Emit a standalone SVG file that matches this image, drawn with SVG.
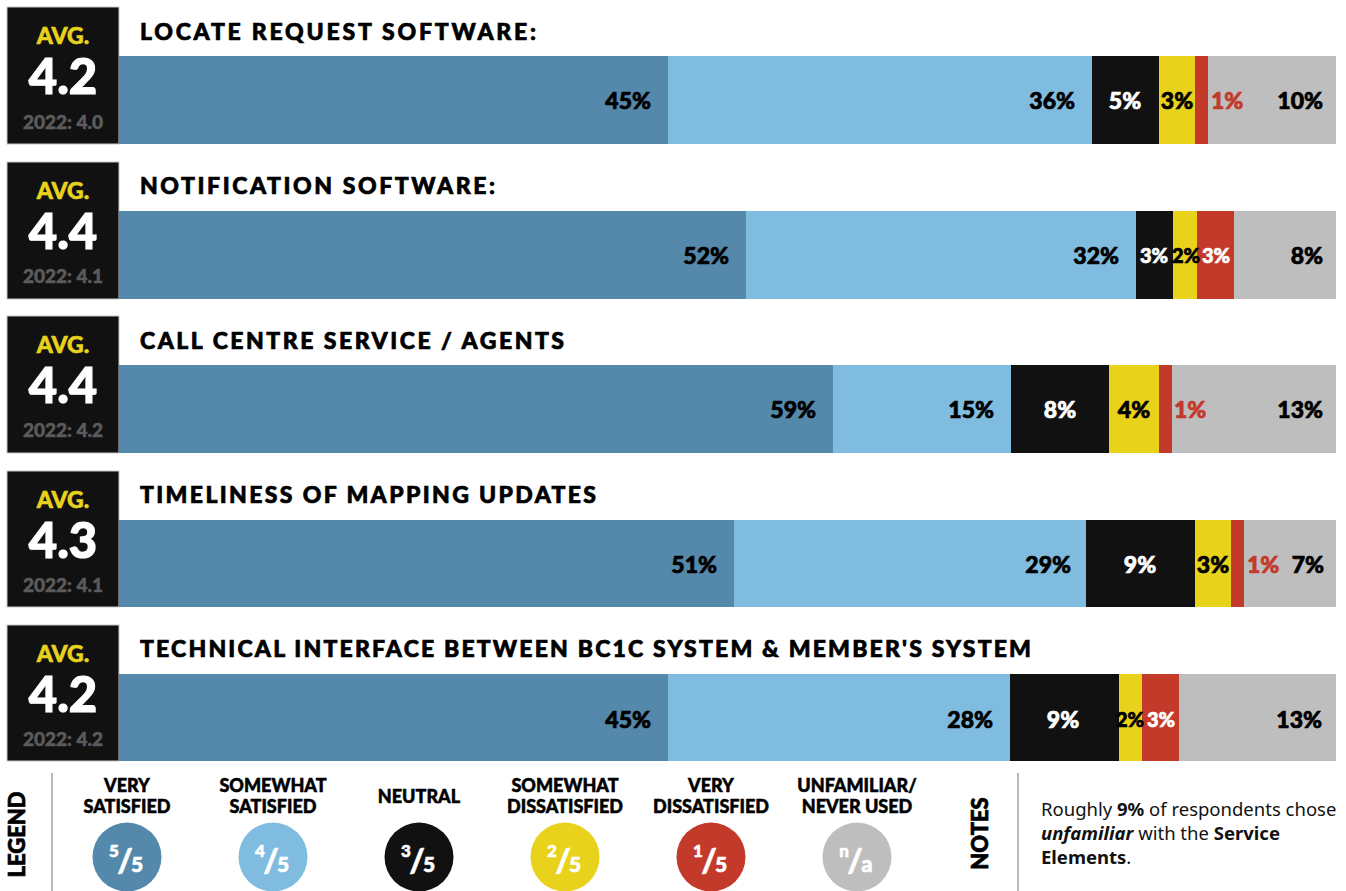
<svg xmlns="http://www.w3.org/2000/svg" width="1346" height="891" viewBox="0 0 1346 891">
<style>
.h{font-family:Lato,"DejaVu Sans",sans-serif;font-weight:900}
.box{fill:#111;stroke:#c8c8c8;stroke-width:1}
.avg{fill:#e8d21e;stroke:#e8d21e;stroke-width:0.6;font-size:23px;text-anchor:middle}
.num{fill:#fff;stroke:#fff;stroke-width:1.2;font-size:49px;text-anchor:middle}
.prev{fill:#5b5b5b;stroke:#5b5b5b;stroke-width:0.5;font-size:19px;text-anchor:middle}
.title{fill:#000;stroke:#000;stroke-width:0.7;font-size:23px}
.pct{font-size:23px;stroke-width:0.7}
.sm{font-size:20px}
.e{text-anchor:end}
.m{text-anchor:middle}
.k{fill:#000;stroke:#000}.w{fill:#fff;stroke:#fff}.r{fill:#c3392a;stroke:#c3392a}
.c1{fill:#5489ab}.c2{fill:#7fbcdf}.c3{fill:#111}.c4{fill:#e9d21c}.c5{fill:#c3392a}.c6{fill:#bebebe}
.lg{font-size:18px;fill:#000;stroke:#000;stroke-width:0.5;text-anchor:middle}
.side{font-size:22px;fill:#000;stroke:#000;stroke-width:0.7;text-anchor:middle}
.fn{fill:#fff;stroke:#fff;stroke-width:0.6;text-anchor:middle}
.rule{stroke:#bbb;stroke-width:2}
.note{font-family:"Noto Sans","Open Sans",sans-serif;font-size:18.5px;fill:#111}
</style>
<rect width="1346" height="891" fill="#fff"/>

<g id="row1" class="h">
<rect class="box" x="7" y="7" width="112" height="137"/>
<text class="avg" x="63" y="44">AVG.</text>
<text class="num" x="63" y="94">4.2</text>
<text class="prev" x="63" y="129">2022: 4.0</text>
<text class="title" x="140" y="40" textLength="396" lengthAdjust="spacing">LOCATE REQUEST SOFTWARE:</text>
<rect class="c1" x="119" y="56" width="549" height="88"/>
<rect class="c2" x="668" y="56" width="424" height="88"/>
<rect class="c3" x="1092" y="56" width="67" height="88"/>
<rect class="c4" x="1159" y="56" width="36" height="88"/>
<rect class="c5" x="1195" y="56" width="13" height="88"/>
<rect class="c6" x="1208" y="56" width="128" height="88"/>
<text class="pct k e" x="651" y="109">45%</text>
<text class="pct k e" x="1075" y="109">36%</text>
<text class="pct w m" x="1125" y="109">5%</text>
<text class="pct k m" x="1177" y="109">3%</text>
<text class="pct r" x="1211" y="109">1%</text>
<text class="pct k e" x="1323" y="109">10%</text>
</g>

<g id="row2" class="h">
<rect class="box" x="7" y="162" width="112" height="137"/>
<text class="avg" x="63" y="199">AVG.</text>
<text class="num" x="63" y="249">4.4</text>
<text class="prev" x="63" y="283">2022: 4.1</text>
<text class="title" x="140" y="194" textLength="355" lengthAdjust="spacing">NOTIFICATION SOFTWARE:</text>
<rect class="c1" x="119" y="211" width="627" height="88"/>
<rect class="c2" x="746" y="211" width="390" height="88"/>
<rect class="c3" x="1136" y="211" width="37" height="88"/>
<rect class="c4" x="1173" y="211" width="24" height="88"/>
<rect class="c5" x="1197" y="211" width="37" height="88"/>
<rect class="c6" x="1234" y="211" width="102" height="88"/>
<text class="pct k e" x="729" y="264">52%</text>
<text class="pct k e" x="1119" y="264">32%</text>
<text class="pct sm w m" x="1154" y="263">3%</text>
<text class="pct sm k m" x="1186" y="263">2%</text>
<text class="pct sm w m" x="1216" y="263">3%</text>
<text class="pct k e" x="1323" y="264">8%</text>
</g>

<g id="row3" class="h">
<rect class="box" x="7" y="316" width="112" height="137"/>
<text class="avg" x="63" y="353">AVG.</text>
<text class="num" x="63" y="403">4.4</text>
<text class="prev" x="63" y="437">2022: 4.2</text>
<text class="title" x="140" y="349" textLength="424" lengthAdjust="spacing">CALL CENTRE SERVICE / AGENTS</text>
<rect class="c1" x="119" y="365" width="714" height="88"/>
<rect class="c2" x="833" y="365" width="178" height="88"/>
<rect class="c3" x="1011" y="365" width="98" height="88"/>
<rect class="c4" x="1109" y="365" width="50" height="88"/>
<rect class="c5" x="1159" y="365" width="13" height="88"/>
<rect class="c6" x="1172" y="365" width="164" height="88"/>
<text class="pct k e" x="816" y="418">59%</text>
<text class="pct k e" x="994" y="418">15%</text>
<text class="pct w m" x="1060" y="418">8%</text>
<text class="pct k m" x="1134" y="418">4%</text>
<text class="pct r" x="1174" y="418">1%</text>
<text class="pct k e" x="1323" y="418">13%</text>
</g>

<g id="row4" class="h">
<rect class="box" x="7" y="471" width="112" height="136"/>
<text class="avg" x="63" y="508">AVG.</text>
<text class="num" x="63" y="558">4.3</text>
<text class="prev" x="63" y="592">2022: 4.1</text>
<text class="title" x="140" y="503" textLength="456" lengthAdjust="spacing">TIMELINESS OF MAPPING UPDATES</text>
<rect class="c1" x="119" y="520" width="615" height="87"/>
<rect class="c2" x="734" y="520" width="352" height="87"/>
<rect class="c3" x="1086" y="520" width="109" height="87"/>
<rect class="c4" x="1195" y="520" width="36" height="87"/>
<rect class="c5" x="1231" y="520" width="13" height="87"/>
<rect class="c6" x="1244" y="520" width="92" height="87"/>
<text class="pct k e" x="717" y="573">51%</text>
<text class="pct k e" x="1071" y="573">29%</text>
<text class="pct w m" x="1140" y="573">9%</text>
<text class="pct k m" x="1213" y="573">3%</text>
<text class="pct r" x="1247" y="573">1%</text>
<text class="pct k e" x="1324" y="573">7%</text>
</g>

<g id="row5" class="h">
<rect class="box" x="7" y="625" width="112" height="136"/>
<text class="avg" x="63" y="662">AVG.</text>
<text class="num" x="63" y="712">4.2</text>
<text class="prev" x="63" y="746">2022: 4.2</text>
<text class="title" x="140" y="657" textLength="891" lengthAdjust="spacing">TECHNICAL INTERFACE BETWEEN BC1C SYSTEM &amp; MEMBER'S SYSTEM</text>
<rect class="c1" x="119" y="674" width="549" height="87"/>
<rect class="c2" x="668" y="674" width="342" height="87"/>
<rect class="c3" x="1010" y="674" width="109" height="87"/>
<rect class="c4" x="1119" y="674" width="23" height="87"/>
<rect class="c5" x="1142" y="674" width="37" height="87"/>
<rect class="c6" x="1179" y="674" width="157" height="87"/>
<text class="pct k e" x="651" y="728">45%</text>
<text class="pct k e" x="993" y="728">28%</text>
<text class="pct w m" x="1063" y="728">9%</text>
<text class="pct sm k m" x="1130" y="727">2%</text>
<text class="pct sm w m" x="1161" y="727">3%</text>
<text class="pct k e" x="1322" y="728">13%</text>
</g>

<g id="legend" class="h">
<text class="side" transform="translate(25,834.5) rotate(-90)">LEGEND</text>
<line class="rule" x1="52" y1="773" x2="52" y2="891"/>
<g id="leg1">
<text class="lg" x="127" y="792">VERY</text><text class="lg" x="127" y="813">SATISFIED</text>
<circle class="c1" cx="127" cy="857" r="34.5"/>
<text class="fn" x="114" y="857" font-size="17">5</text><text class="fn" x="125" y="872" font-size="33">/</text><text class="fn" x="137" y="872" font-size="21">5</text>
</g>
<g id="leg2">
<text class="lg" x="273" y="792">SOMEWHAT</text><text class="lg" x="273" y="813">SATISFIED</text>
<circle class="c2" cx="273" cy="857" r="34.5"/>
<text class="fn" x="260" y="857" font-size="17">4</text><text class="fn" x="271" y="872" font-size="33">/</text><text class="fn" x="283" y="872" font-size="21">5</text>
</g>
<g id="leg3">
<text class="lg" x="419" y="803">NEUTRAL</text>
<circle class="c3" cx="419" cy="857" r="34.5"/>
<text class="fn" x="406" y="857" font-size="17">3</text><text class="fn" x="417" y="872" font-size="33">/</text><text class="fn" x="429" y="872" font-size="21">5</text>
</g>
<g id="leg4">
<text class="lg" x="565" y="792">SOMEWHAT</text><text class="lg" x="565" y="813">DISSATISFIED</text>
<circle class="c4" cx="565" cy="857" r="34.5"/>
<text class="fn" x="552" y="857" font-size="17">2</text><text class="fn" x="563" y="872" font-size="33">/</text><text class="fn" x="575" y="872" font-size="21">5</text>
</g>
<g id="leg5">
<text class="lg" x="711" y="792">VERY</text><text class="lg" x="711" y="813">DISSATISFIED</text>
<circle class="c5" cx="711" cy="857" r="34.5"/>
<text class="fn" x="698" y="857" font-size="17">1</text><text class="fn" x="709" y="872" font-size="33">/</text><text class="fn" x="721" y="872" font-size="21">5</text>
</g>
<g id="leg6">
<text class="lg" x="857" y="792">UNFAMILIAR/</text><text class="lg" x="857" y="813">NEVER USED</text>
<circle class="c6" cx="857" cy="857" r="34.5"/>
<text class="fn" x="844" y="857" font-size="17">n</text><text class="fn" x="855" y="872" font-size="33">/</text><text class="fn" x="867" y="872" font-size="22">a</text>
</g>
</g>

<g id="notes">
<text class="h side" transform="translate(988,833.5) rotate(-90)">NOTES</text>
<line class="rule" x1="1018" y1="773" x2="1018" y2="891"/>
<text class="note" x="1041" y="816">Roughly <tspan font-weight="700">9%</tspan> of respondents chose</text>
<text class="note" x="1041" y="840"><tspan font-weight="700" font-style="italic">unfamiliar</tspan> with the <tspan font-weight="700">Service</tspan></text>
<text class="note" x="1041" y="864"><tspan font-weight="700">Elements</tspan>.</text>
</g>
</svg>
